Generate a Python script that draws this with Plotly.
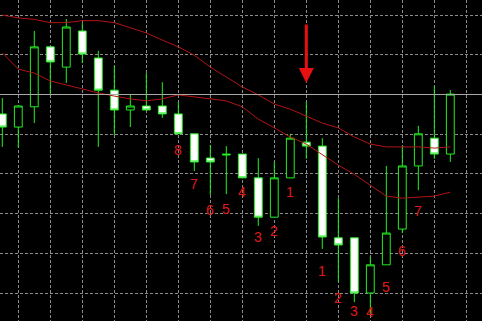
import plotly.graph_objects as go

# ---- data (prices) ----
idx = list(range(29))
open_ = [1.30451, 1.30418, 1.30469, 1.30620, 1.30569, 1.30660, 1.30592, 1.30511, 1.30461, 1.30471,
         1.30471, 1.30451, 1.30401, 1.30340, 1.30350, 1.30350, 1.30290, 1.30191, 1.30290, 1.30380,
         1.30370, 1.30139, 1.30139, 1.30000, 1.30071, 1.30161, 1.30320, 1.30390, 1.30350]
high = [1.30491, 1.30471, 1.30660, 1.30620, 1.30690, 1.30680, 1.30610, 1.30572, 1.30501, 1.30554,
        1.30531, 1.30481, 1.30401, 1.30373, 1.30370, 1.30350, 1.30340, 1.30330, 1.30401, 1.30481,
        1.30390, 1.30239, 1.30139, 1.30091, 1.30320, 1.30368, 1.30421, 1.30521, 1.30511]
low = [1.30368, 1.30366, 1.30428, 1.30501, 1.30529, 1.30579, 1.30368, 1.30398, 1.30418, 1.30461,
       1.30441, 1.30401, 1.30307, 1.30247, 1.30249, 1.30290, 1.30169, 1.30191, 1.30290, 1.30338,
       1.30111, 1.30028, 1.29977, 1.29945, 1.30071, 1.30151, 1.30259, 1.30338, 1.30330]
close = [1.30418, 1.30471, 1.30620, 1.30582, 1.30670, 1.30602, 1.30511, 1.30461, 1.30471, 1.30461,
         1.30451, 1.30401, 1.30330, 1.30330, 1.30348, 1.30290, 1.30191, 1.30290, 1.30390, 1.30370,
         1.30141, 1.30121, 1.30000, 1.30071, 1.30151, 1.30320, 1.30401, 1.30350, 1.30501]

ma_slow = [1.30700, 1.30693, 1.30689, 1.30681, 1.30681, 1.30686, 1.30686, 1.30681, 1.30668, 1.30655,
           1.30637, 1.30620, 1.30599, 1.30569, 1.30544, 1.30519, 1.30499, 1.30476, 1.30463, 1.30446,
           1.30428, 1.30416, 1.30393, 1.30375, 1.30368, 1.30368, 1.30368, 1.30365, 1.30368]
ma_fast = [1.30605, 1.30564, 1.30554, 1.30534, 1.30524, 1.30514, 1.30504, 1.30496, 1.30489, 1.30484,
           1.30489, 1.30499, 1.30494, 1.30489, 1.30484, 1.30469, 1.30438, 1.30416, 1.30393, 1.30375,
           1.30348, 1.30322, 1.30299, 1.30272, 1.30244, 1.30239, 1.30242, 1.30244, 1.30254]

level_price = 1.30500

label_idx = [11, 12, 13, 14, 15, 16, 17, 18, 20, 21, 22, 23, 24, 25, 26]
label_text = ["8", "7", "6", "5", "4", "3", "2", "1", "1", "2", "3", "4", "5", "6", "7"]
label_price = [1.30360, 1.30275, 1.30209, 1.30212, 1.30254, 1.30141, 1.30156, 1.30254,
               1.30055, 1.29987, 1.29955, 1.29952, 1.30015, 1.30106, 1.30207]

arrow_idx = 19
arrow_price = 1.30529

GREEN = "#22ee22"
RED_MA = "#b41414"
RED_TXT = "#e01818"

fig = go.Figure()
fig.add_trace(go.Candlestick(
    x=idx, open=open_, high=high, low=low, close=close,
    increasing=dict(line=dict(color=GREEN, width=1), fillcolor="black"),
    decreasing=dict(line=dict(color=GREEN, width=1), fillcolor="white"),
    whiskerwidth=0, showlegend=False, hoverinfo="skip",
))
fig.add_trace(go.Scatter(x=idx, y=ma_slow, mode="lines",
                         line=dict(color=RED_MA, width=1), showlegend=False, hoverinfo="skip"))
fig.add_trace(go.Scatter(x=idx, y=ma_fast, mode="lines",
                         line=dict(color=RED_MA, width=1), showlegend=False, hoverinfo="skip"))

fig.add_shape(type="line", xref="paper", x0=0, x1=1, yref="y", y0=level_price, y1=level_price,
              line=dict(color="#a8a8a8", width=1), layer="above")

for i, t, p in zip(label_idx, label_text, label_price):
    fig.add_annotation(x=i, y=p, text=t, showarrow=False,
                       font=dict(family="Liberation Sans, Arial", size=14, color=RED_TXT))

fig.add_annotation(x=arrow_idx, y=arrow_price, text="", showarrow=True,
                   ax=0, ay=-60, arrowhead=2, arrowsize=1, arrowwidth=3,
                   arrowcolor="#e81010", standoff=0)

fig.update_layout(
    width=482, height=321, margin=dict(l=0, r=0, t=0, b=0),
    paper_bgcolor="black", plot_bgcolor="black",
    xaxis=dict(range=[-0.144, 29.98], showticklabels=False, tick0=1, dtick=2,
               showgrid=True, gridcolor="#8a8a8a", griddash="3px,2px", gridwidth=1,
               zeroline=False, rangeslider=dict(visible=False), fixedrange=True),
    yaxis=dict(range=[1.299295, 1.30738], showticklabels=False, tick0=1.3, dtick=0.001,
               showgrid=True, gridcolor="#8a8a8a", griddash="3px,2px", gridwidth=1,
               zeroline=False, fixedrange=True),
    showlegend=False,
)

fig.write_html("out.html", config={"displayModeBar": False})
